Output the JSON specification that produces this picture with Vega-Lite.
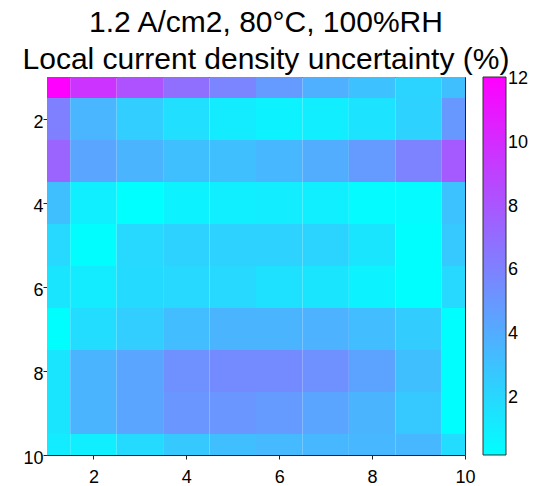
{
  "$schema": "https://vega.github.io/schema/vega-lite/v6.json",
  "autosize": "none",
  "padding": {"left": 47, "top": 77, "right": 89, "bottom": 31},
  "width": 418,
  "height": 378,
  "background": "white",
  "config": {
    "font": "Liberation Sans",
    "view": {"stroke": "#222", "strokeWidth": 1},
    "axis": {"grid": false, "labelFont": "Liberation Sans", "labelFontSize": 18, "labelColor": "#000", "domain": false, "tickColor": "#222", "tickSize": 4, "tickWidth": 1, "title": null, "labelFlush": false, "zindex": 2}
  },
  "title": {
    "text": ["1.2 A/cm2, 80°C, 100%RH", "Local current density uncertainty (%)"],
    "font": "Liberation Sans",
    "fontSize": 30,
    "fontWeight": "normal",
    "color": "#000",
    "lineHeight": 37,
    "anchor": "middle",
    "dx": 10,
    "offset": 2
  },
  "data": {"values": [
    {"r":1,"c":1,"v":12.06},{"r":1,"c":2,"v":9.7},{"r":1,"c":3,"v":8.3},{"r":1,"c":4,"v":6.9},{"r":1,"c":5,"v":5.9},{"r":1,"c":6,"v":4.9},{"r":1,"c":7,"v":3.9},{"r":1,"c":8,"v":3.1},{"r":1,"c":9,"v":2.2},{"r":1,"c":10,"v":3.2},
    {"r":2,"c":1,"v":6.1},{"r":2,"c":2,"v":3.6},{"r":2,"c":3,"v":2.5},{"r":2,"c":4,"v":1.7},{"r":2,"c":5,"v":1.1},{"r":2,"c":6,"v":0.8},{"r":2,"c":7,"v":1.0},{"r":2,"c":8,"v":1.5},{"r":2,"c":9,"v":2.3},{"r":2,"c":10,"v":5.0},
    {"r":3,"c":1,"v":7.4},{"r":3,"c":2,"v":4.4},{"r":3,"c":3,"v":3.7},{"r":3,"c":4,"v":3.2},{"r":3,"c":5,"v":3.2},{"r":3,"c":6,"v":3.5},{"r":3,"c":7,"v":4.0},{"r":3,"c":8,"v":4.9},{"r":3,"c":9,"v":6.0},{"r":3,"c":10,"v":7.9},
    {"r":4,"c":1,"v":3.2},{"r":4,"c":2,"v":0.95},{"r":4,"c":3,"v":0.21},{"r":4,"c":4,"v":0.8},{"r":4,"c":5,"v":0.95},{"r":4,"c":6,"v":1.05},{"r":4,"c":7,"v":0.95},{"r":4,"c":8,"v":0.4},{"r":4,"c":9,"v":0.4},{"r":4,"c":10,"v":3.0},
    {"r":5,"c":1,"v":2.0},{"r":5,"c":2,"v":0.3},{"r":5,"c":3,"v":2.0},{"r":5,"c":4,"v":2.3},{"r":5,"c":5,"v":2.3},{"r":5,"c":6,"v":2.3},{"r":5,"c":7,"v":2.2},{"r":5,"c":8,"v":1.4},{"r":5,"c":9,"v":0.25},{"r":5,"c":10,"v":2.7},
    {"r":6,"c":1,"v":1.4},{"r":6,"c":2,"v":1.1},{"r":6,"c":3,"v":1.9},{"r":6,"c":4,"v":2.0},{"r":6,"c":5,"v":2.0},{"r":6,"c":6,"v":1.6},{"r":6,"c":7,"v":1.4},{"r":6,"c":8,"v":0.8},{"r":6,"c":9,"v":0.25},{"r":6,"c":10,"v":2.0},
    {"r":7,"c":1,"v":0.25},{"r":7,"c":2,"v":1.8},{"r":7,"c":3,"v":2.5},{"r":7,"c":4,"v":3.3},{"r":7,"c":5,"v":3.7},{"r":7,"c":6,"v":3.7},{"r":7,"c":7,"v":3.8},{"r":7,"c":8,"v":3.3},{"r":7,"c":9,"v":2.6},{"r":7,"c":10,"v":0.25},
    {"r":8,"c":1,"v":1.4},{"r":8,"c":2,"v":3.7},{"r":8,"c":3,"v":4.4},{"r":8,"c":4,"v":5.3},{"r":8,"c":5,"v":5.6},{"r":8,"c":6,"v":5.6},{"r":8,"c":7,"v":5.3},{"r":8,"c":8,"v":4.5},{"r":8,"c":9,"v":3.2},{"r":8,"c":10,"v":0.25},
    {"r":9,"c":1,"v":1.4},{"r":9,"c":2,"v":3.7},{"r":9,"c":3,"v":4.4},{"r":9,"c":4,"v":5.1},{"r":9,"c":5,"v":5.1},{"r":9,"c":6,"v":4.9},{"r":9,"c":7,"v":4.4},{"r":9,"c":8,"v":3.7},{"r":9,"c":9,"v":2.7},{"r":9,"c":10,"v":0.25},
    {"r":10,"c":1,"v":1.1},{"r":10,"c":2,"v":0.95},{"r":10,"c":3,"v":1.9},{"r":10,"c":4,"v":2.7},{"r":10,"c":5,"v":3.2},{"r":10,"c":6,"v":3.4},{"r":10,"c":7,"v":3.5},{"r":10,"c":8,"v":3.5},{"r":10,"c":9,"v":3.5},{"r":10,"c":10,"v":1.8}
  ]},
  "transform": [
    {"calculate": "datum.c - 0.5", "as": "c0"},
    {"calculate": "datum.c + 0.5", "as": "c1"},
    {"calculate": "datum.r - 0.5", "as": "r0"},
    {"calculate": "datum.r + 0.5", "as": "r1"}
  ],
  "layer": [
    {
      "mark": {"type": "rect", "clip": true},
      "encoding": {
        "x": {"field": "c0", "type": "quantitative", "scale": {"domain": [1, 10], "nice": false, "zero": false}, "axis": {"values": [2, 4, 6, 8, 10], "orient": "bottom", "labelPadding": 9}},
        "x2": {"field": "c1"},
        "y": {"field": "r0", "type": "quantitative", "scale": {"domain": [1, 10], "nice": false, "zero": false, "reverse": true}, "axis": {"values": [2, 4, 6, 8, 10], "orient": "left", "labelPadding": 0, "labelOffset": 3}},
        "y2": {"field": "r1"},
        "color": {
          "field": "v", "type": "quantitative",
          "scale": {"domain": [0.21, 12.06], "range": ["#00ffff", "#ff00ff"], "interpolate": "rgb"},
          "legend": {
            "title": null, "orient": "right", "offset": 18, "values": [2, 4, 6, 8, 10, 12],
            "gradientLength": 378, "gradientThickness": 23, "gradientStrokeColor": "#333", "gradientStrokeWidth": 1,
            "labelFont": "Liberation Sans", "labelFontSize": 18, "labelColor": "#000", "labelOffset": 2, "labelOverlap": false
          }
        }
      }
    }
  ]
}
